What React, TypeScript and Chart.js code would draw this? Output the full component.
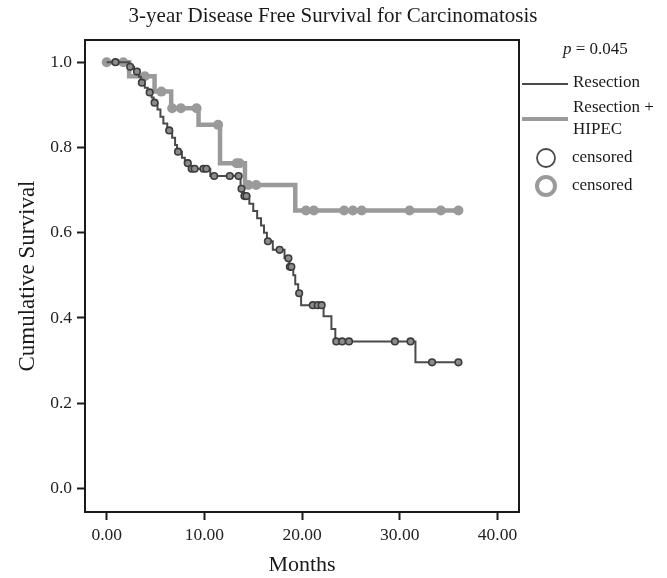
import React, { useEffect, useRef } from 'react';
import { Chart, registerables } from 'chart.js';

Chart.register(...registerables);

const FONT = '"Liberation Serif", "DejaVu Serif", serif';

// Resection (Kaplan-Meier steps: time of event, survival level after it)
const resectionTimes = [0, 2.3, 2.8, 3.3, 3.5, 3.9, 4.2, 4.6, 4.8, 5.2, 5.5, 5.8, 6.2, 6.7, 7.0, 7.2, 7.7, 8.0, 8.5, 10.6, 13.7, 14.0, 14.6, 15.0, 15.4, 15.8, 16.1, 16.4, 17.0, 18.2, 18.7, 19.1, 19.3, 19.6, 19.9, 22.2, 23.0, 23.4, 31.6, 36.0];
const resectionSurv = [1.0, 0.989, 0.978, 0.966, 0.952, 0.94, 0.929, 0.917, 0.905, 0.889, 0.872, 0.856, 0.84, 0.823, 0.806, 0.79, 0.776, 0.763, 0.75, 0.733, 0.703, 0.686, 0.668, 0.651, 0.634, 0.617, 0.6, 0.58, 0.56, 0.54, 0.52, 0.5, 0.479, 0.458, 0.43, 0.404, 0.374, 0.345, 0.296, 0.296];
const resectionCensored = [0.9, 2.4, 3.1, 3.6, 4.4, 4.9, 6.4, 7.3, 8.3, 8.7, 9.0, 9.9, 10.2, 11.0, 12.6, 13.5, 13.8, 14.1, 14.3, 16.5, 17.7, 18.6, 18.75, 18.9, 19.7, 21.1, 21.6, 22.0, 23.5, 24.1, 24.8, 29.5, 31.1, 33.3, 36.0];

// Resection + HIPEC
const hipecTimes = [0, 2.3, 4.9, 6.6, 9.4, 11.6, 14.15, 19.3, 36.0];
const hipecSurv = [1.0, 0.967, 0.931, 0.892, 0.853, 0.763, 0.712, 0.652, 0.652];
const hipecCensored = [0, 1.7, 3.9, 5.6, 6.7, 7.6, 9.2, 11.4, 13.3, 13.6, 14.5, 15.3, 20.4, 21.2, 24.3, 25.2, 26.1, 31.0, 34.2, 36.0];

const xTicks = [0, 10, 20, 30, 40];
const yTicks = [0, 0.2, 0.4, 0.6, 0.8, 1.0];

const titleText = '3-year Disease Free Survival for Carcinomatosis';
const pValueText = '0.045';
const seriesNames = ['Resection', 'Resection +', 'HIPEC'];
const censoredLabel = 'censored';

const DARK = '#4a4a4a';
const GRAY = '#9a9a9a';
const INK = '#1a1a1a';

function survAt(times: number[], surv: number[], t: number) {
  let s = surv[0];
  for (let i = 0; i < times.length; i++) if (times[i] <= t) s = surv[i];
  return s;
}

const decor = {
  id: 'decor',
  afterDraw(chart: any) {
    const { ctx, chartArea: a } = chart;
    ctx.save();
    ctx.strokeStyle = INK;
    ctx.lineWidth = 2;
    ctx.strokeRect(a.left, a.top, a.right - a.left, a.bottom - a.top);

    ctx.fillStyle = INK;
    ctx.textBaseline = 'middle';
    ctx.textAlign = 'center';
    ctx.font = `21px ${FONT}`;
    ctx.fillText(titleText, 333, 16);

    ctx.textAlign = 'left';
    // p value
    ctx.font = `italic 17px ${FONT}`;
    ctx.fillText('p', 563, 50);
    const pw = ctx.measureText('p').width;
    ctx.font = `17px ${FONT}`;
    ctx.fillText(' = ' + pValueText, 563 + pw, 50);

    ctx.font = `17px ${FONT}`;
    // Resection
    ctx.strokeStyle = DARK;
    ctx.lineWidth = 2;
    ctx.beginPath();
    ctx.moveTo(522, 84);
    ctx.lineTo(568, 84);
    ctx.stroke();
    ctx.fillText(seriesNames[0], 573, 83);
    // HIPEC
    ctx.strokeStyle = GRAY;
    ctx.lineWidth = 4;
    ctx.beginPath();
    ctx.moveTo(522, 119);
    ctx.lineTo(568, 119);
    ctx.stroke();
    ctx.fillText(seriesNames[1], 573, 108);
    ctx.fillText(seriesNames[2], 573, 130);
    // censored markers
    ctx.strokeStyle = DARK;
    ctx.lineWidth = 1.8;
    ctx.beginPath();
    ctx.arc(546, 158, 9, 0, Math.PI * 2);
    ctx.stroke();
    ctx.fillText(censoredLabel, 572, 158);
    ctx.strokeStyle = GRAY;
    ctx.lineWidth = 4;
    ctx.beginPath();
    ctx.arc(546, 186, 9, 0, Math.PI * 2);
    ctx.stroke();
    ctx.fillText(censoredLabel, 572, 186);
    ctx.restore();
  },
};

export default function App() {
  const ref = useRef<HTMLCanvasElement>(null);
  useEffect(() => {
    if (!ref.current) return;
    const resLine = resectionTimes.map((t, i) => ({ x: t, y: resectionSurv[i] }));
    const hipLine = hipecTimes.map((t, i) => ({ x: t, y: hipecSurv[i] }));
    const resCens = resectionCensored.map((t) => ({ x: t, y: survAt(resectionTimes, resectionSurv, t) }));
    const hipCens = hipecCensored.map((t) => ({ x: t, y: survAt(hipecTimes, hipecSurv, t) }));

    const tickFont = { family: FONT, size: 17.5 };
    const chart = new Chart(ref.current, {
      type: 'scatter',
      data: {
        datasets: [
          { label: 'Resection censored', data: resCens, showLine: false, pointRadius: 3.3, pointBorderWidth: 1.6, pointBorderColor: '#3c3c3c', pointBackgroundColor: '#8c8c8c', order: 0 },
          { label: 'Resection', data: resLine, showLine: true, stepped: 'before', borderColor: DARK, borderWidth: 2, pointRadius: 0, order: 1 },
          { label: 'HIPEC censored', data: hipCens, showLine: false, pointRadius: 5, pointBorderWidth: 0, pointBackgroundColor: GRAY, order: 2 },
          { label: 'Resection + HIPEC', data: hipLine, showLine: true, stepped: 'before', borderColor: GRAY, borderWidth: 4.5, pointRadius: 0, order: 3 },
        ],
      } as any,
      options: {
        animation: false,
        responsive: false,
        layout: { padding: { top: 40, right: 148, left: 0, bottom: 0 } },
        plugins: { legend: { display: false }, tooltip: { enabled: false }, title: { display: false } },
        scales: {
          x: {
            type: 'linear',
            min: -2.22,
            max: 42.2,
            afterBuildTicks: (s: any) => { s.ticks = xTicks.map((v) => ({ value: v })); },
            afterFit: (s: any) => { s.height = 66; },
            ticks: { font: tickFont, color: '#222', padding: 5, callback: (v: any) => Number(v).toFixed(2) },
            grid: { display: true, drawOnChartArea: false, drawTicks: true, tickLength: 8, tickWidth: 2, tickColor: INK },
            border: { display: false },
            title: { display: true, text: 'Months', font: { family: FONT, size: 22 }, color: INK, padding: { top: 0, bottom: 0 } },
          },
          y: {
            type: 'linear',
            min: -0.055,
            max: 1.052,
            afterBuildTicks: (s: any) => { s.ticks = yTicks.map((v) => ({ value: v })); },
            afterFit: (s: any) => { s.width = 85; },
            ticks: { font: tickFont, color: '#222', padding: 5, callback: (v: any) => Number(v).toFixed(1) },
            grid: { display: true, drawOnChartArea: false, drawTicks: true, tickLength: 8, tickWidth: 2, tickColor: INK },
            border: { display: false },
            title: { display: true, text: 'Cumulative Survival', font: { family: FONT, size: 23 }, color: INK, padding: { top: 14, bottom: 0 } },
          },
        },
      } as any,
      plugins: [decor],
    });
    return () => chart.destroy();
  }, []);
  return (
    <div style={{ position: 'fixed', left: 0, top: 0, width: 667, height: 578, background: '#fff' }}>
      <canvas ref={ref} width={667} height={578} style={{ width: 667, height: 578 }} />
    </div>
  );
}
